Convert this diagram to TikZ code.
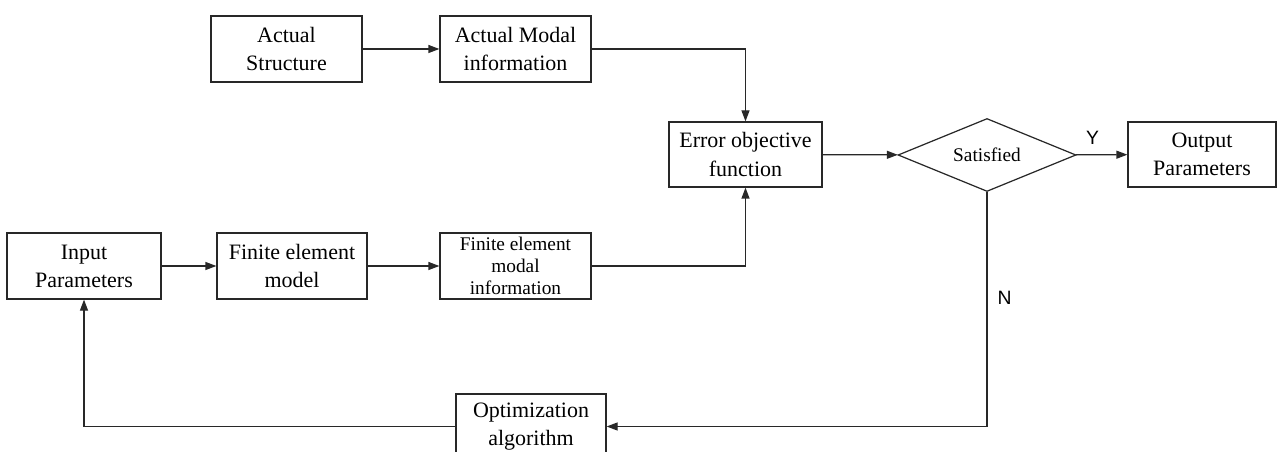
\documentclass[tikz,border=0pt]{standalone}
\usepackage{fontspec}
\setmainfont{Liberation Serif}
\newfontfamily\labelfont{Liberation Sans}
\usetikzlibrary{arrows.meta,shapes.geometric}
\definecolor{lineblack}{RGB}{40, 40, 40}

\begin{document}
\begin{tikzpicture}[
    block/.style     = {draw=lineblack, line width=0.7pt, minimum width=3.02cm, minimum height=1.30cm,
                        inner sep=0pt, align=center, font=\fontsize{12.5}{16}\selectfont},
    smallblock/.style= {block, font=\fontsize{11}{12.5}\selectfont},
    decision/.style  = {diamond, aspect=2.4, draw=lineblack, line width=0.7pt, minimum width=3.56cm,
                        minimum height=1.46cm, inner sep=0pt, font=\fontsize{11}{13}\selectfont},
    conn/.style      = {draw=lineblack, line width=0.7pt, -{Triangle[length=2.2mm, width=1.6mm]}},
    tag/.style       = {font=\labelfont\fontsize{11}{13}\selectfont, inner sep=0pt}
]
            \useasboundingbox (0.00, 0.00) rectangle (25.54,-9.04);
            \node[block, minimum height=1.32cm]     (actstruct) at ( 5.73,-0.98) {Actual\\Structure};
            \node[block, minimum height=1.32cm]     (actmodal)  at (10.31,-0.98) {Actual Modal\\information};
            \node[block, minimum width=3.06cm]      (errfunc)   at (14.91,-3.09) {Error objective\\function};
            \node[decision]                         (satisfied) at (19.74,-3.10) {Satisfied};
            \node[block, minimum width=2.96cm]      (output)    at (24.04,-3.09) {Output\\Parameters};
            \node[block, minimum width=3.08cm, minimum height=1.32cm] (input) at ( 1.68,-5.32) {Input\\Parameters};
            \node[block, minimum width=3.00cm, minimum height=1.32cm] (femodel) at ( 5.84,-5.32) {Finite element\\model};
            \node[smallblock, minimum height=1.32cm] (femodal)  at (10.31,-5.32) {Finite element\\modal\\information};
            \node[block, minimum width=3.00cm]      (optim)     at (10.62,-8.53) {Optimization\\algorithm};
            \draw[conn] (actstruct) -- (actmodal);
            \draw[conn] (actmodal.east) -| (errfunc.north);
            \draw[conn] (femodal.east)  -| (errfunc.south);
            \draw[conn] (input)   -- (femodel);
            \draw[conn] (femodel) -- (femodal);
            \draw[conn] (errfunc) -- (satisfied);
            \draw[conn] (satisfied) -- node[tag, pos=0.32, above=0.2cm] {Y} (output);
            \draw[conn] (satisfied.south) |- node[tag, pos=0.225, anchor=west, xshift=0.2cm] {N} (optim.east);
            \draw[conn] (optim.west) -| (input.south);
\end{tikzpicture}
\end{document}
